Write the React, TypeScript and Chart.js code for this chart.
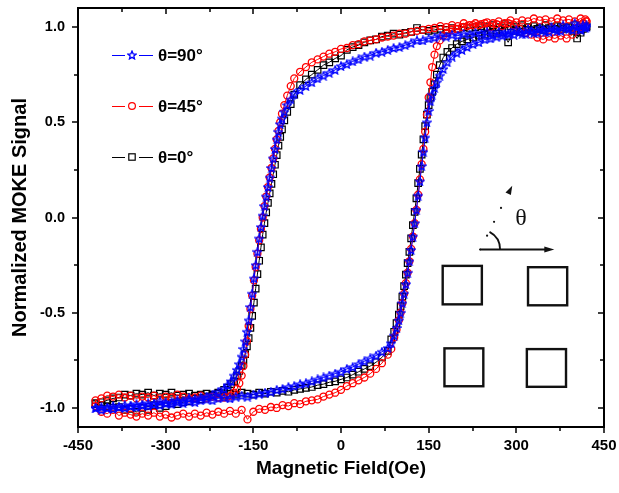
import React, { useEffect, useRef } from 'react';
import { Chart, registerables } from 'chart.js';

Chart.register(...registerables);

const FONT = "Arial, 'Liberation Sans', Helvetica, sans-serif";

// Field sweep grids (Oe)
const fieldDown = [
  420, 410, 400, 390, 380, 370, 360, 350, 340, 330, 320, 310, 300, 290, 280, 270, 260, 250, 240, 230,
  220, 210, 200, 190, 180, 170, 160, 150, 140, 130, 120, 110, 100, 90, 80, 70, 60, 50, 40, 30,
  20, 10, 0, -10, -20, -30, -40, -50, -60, -70, -80,
  -86, -92, -97, -101, -104, -107, -110, -113, -116, -119, -122, -125, -128, -131, -134, -137, -140,
  -143, -146, -149, -152, -155, -158, -161, -164, -167, -170, -174, -178, -183, -188, -194, -200,
  -210, -220, -230, -240, -250, -260, -270, -280, -290, -300, -310, -320, -330, -340, -350, -360,
  -370, -380, -390, -400, -410, -420,
];
const fieldUp = [
  -420, -410, -400, -390, -380, -370, -360, -350, -340, -330, -320, -310, -300, -290, -280, -270,
  -260, -250, -240, -230, -220, -210, -200, -190, -180, -170, -160, -150, -140, -130, -120, -110,
  -100, -90, -80, -70, -60, -50, -40, -30, -20, -10, 0, 10, 20, 30, 40, 50, 60, 70, 80,
  86, 91, 95, 99, 102, 105, 108, 111, 114, 117, 120, 123, 126, 129, 132, 135, 138, 141, 144, 147,
  150, 153, 156, 160, 164, 169, 175, 182, 190, 198, 207, 216, 226,
  236, 246, 256, 266, 276, 286, 296, 306, 316, 326, 336, 346, 356, 366, 376, 386, 396, 404, 410,
  414, 418, 420,
];

// θ = 90°
const blueDown = [
  1.01, 0.985, 1.02, 0.99, 1.01, 0.98, 1.0, 0.975, 0.995, 0.97, 0.99, 0.965, 0.985, 0.97, 0.965, 0.975,
  0.96, 0.975, 0.965, 0.97, 0.96, 0.965, 0.955, 0.96, 0.95, 0.955, 0.945, 0.94, 0.93, 0.93, 0.915,
  0.905, 0.895, 0.89, 0.88, 0.87, 0.865, 0.85, 0.845, 0.83, 0.82, 0.805, 0.795, 0.775, 0.76, 0.745,
  0.73, 0.71, 0.69, 0.67, 0.65,
  0.62, 0.59, 0.555, 0.52, 0.49, 0.45, 0.41, 0.36, 0.31, 0.26, 0.21, 0.16, 0.11, 0.06, 0.01, -0.05,
  -0.11, -0.18, -0.25, -0.32, -0.4, -0.47, -0.54, -0.6, -0.65, -0.69, -0.73, -0.77, -0.8, -0.83,
  -0.86, -0.88, -0.9,
  -0.915, -0.93, -0.94, -0.945, -0.955, -0.95, -0.965, -0.96, -0.97, -0.975, -0.965, -0.98, -0.975,
  -0.985, -0.98, -0.99, -0.985, -0.995, -0.99, -1.0, -0.995, -1.0,
];
const blueUp = [
  -1.0, -1.01, -1.0, -1.005, -0.995, -1.0, -0.99, -0.995, -0.985, -0.99, -0.98, -0.985, -0.975,
  -0.98, -0.97, -0.975, -0.965, -0.97, -0.96, -0.955, -0.96, -0.95, -0.945, -0.95, -0.94, -0.935,
  -0.94, -0.93, -0.925, -0.92, -0.915, -0.905, -0.9, -0.89, -0.885, -0.875, -0.87, -0.86, -0.85,
  -0.84, -0.83, -0.82, -0.81, -0.795, -0.785, -0.77, -0.755, -0.74, -0.725, -0.705, -0.685,
  -0.66, -0.62, -0.58, -0.54, -0.5, -0.45, -0.4, -0.35, -0.29, -0.23, -0.17, -0.1, -0.03, 0.04,
  0.115, 0.19, 0.27, 0.345, 0.42, 0.5, 0.56, 0.61, 0.645, 0.68, 0.71, 0.745, 0.78, 0.815, 0.845,
  0.865, 0.88, 0.895, 0.91,
  0.92, 0.935, 0.94, 0.95, 0.955, 0.965, 0.96, 0.975, 0.965, 0.98, 0.97, 0.985, 0.975, 0.99, 0.98,
  0.995, 0.985, 1.0, 0.99, 1.01, 0.995, 1.0,
];

// θ = 45°
const redDown = [
  1.03, 1.045, 1.03, 1.04, 1.035, 1.045, 1.03, 1.04, 1.035, 1.045, 1.03, 1.035, 1.025, 1.035, 1.02,
  1.03, 1.02, 1.025, 1.015, 1.02, 1.01, 1.02, 1.005, 1.01, 1.0, 1.005, 0.995, 0.99, 0.985, 0.98,
  0.975, 0.965, 0.965, 0.955, 0.95, 0.945, 0.935, 0.93, 0.925, 0.91, 0.905, 0.89, 0.885, 0.87,
  0.86, 0.845, 0.83, 0.815, 0.79, 0.765, 0.73,
  0.69, 0.64, 0.59, 0.545, 0.5, 0.455, 0.41, 0.36, 0.31, 0.26, 0.21, 0.16, 0.11, 0.06, 0.0, -0.06,
  -0.12, -0.19, -0.26, -0.33, -0.41, -0.48, -0.57, -0.65, -0.72, -0.78, -0.83, -0.87, -0.9, -0.92,
  -0.935, -0.94, -0.945,
  -0.945, -0.94, -0.95, -0.935, -0.945, -0.95, -0.94, -0.93, -0.945, -0.94, -0.95, -0.935, -0.945,
  -0.94, -0.95, -0.935, -0.945, -0.93, -0.94, -0.935, -0.95, -0.96,
];
const redUp = [
  -0.99, -1.02, -1.03, -1.01, -1.04, -1.025, -1.035, -1.045, -1.03, -1.04, -1.025, -1.045, -1.035,
  -1.05, -1.04, -1.03, -1.045, -1.03, -1.04, -1.025, -1.035, -1.02, -1.03, -1.015, -1.03, -1.01,
  -1.06, -1.02, -1.005, -1.01, -0.995, -1.0, -0.985, -0.99, -0.975, -0.98, -0.965, -0.96, -0.955,
  -0.94, -0.93, -0.92, -0.905, -0.885, -0.87, -0.855, -0.84, -0.82, -0.795, -0.765, -0.72,
  -0.69, -0.63, -0.59, -0.54, -0.5, -0.45, -0.4, -0.345, -0.29, -0.23, -0.165, -0.1, -0.03, 0.04,
  0.12, 0.2, 0.28, 0.36, 0.45, 0.54, 0.63, 0.71, 0.79, 0.855, 0.9, 0.93, 0.955, 0.97, 0.985, 0.99,
  1.0, 1.005, 1.01,
  1.01, 1.02, 1.0, 1.015, 1.005, 1.02, 1.01, 0.99, 0.97, 0.96, 0.945, 0.935, 0.95, 0.94, 0.955,
  0.94, 0.96, 0.98, 1.0, 1.02, 1.04, 1.03,
];

// θ = 0°
const blackDown = [
  1.0, 0.985, 1.01, 1.0, 0.99, 1.005, 1.0, 1.01, 0.995, 1.005, 1.0, 1.01, 1.0, 1.005, 1.015, 1.0,
  1.01, 1.0, 1.005, 1.0, 0.995, 1.0, 0.99, 0.995, 0.985, 0.99, 0.985, 0.98, 0.985, 0.995, 0.975,
  0.97, 0.96, 0.965, 0.955, 0.95, 0.935, 0.93, 0.92, 0.905, 0.895, 0.88, 0.85, 0.835, 0.815, 0.8,
  0.775, 0.75, 0.725, 0.695, 0.645,
  0.595, 0.555, 0.51, 0.463, 0.423, 0.377, 0.327, 0.277, 0.227, 0.177, 0.127, 0.077, 0.027, -0.03,
  -0.09, -0.157, -0.227, -0.297, -0.373, -0.447, -0.517, -0.58, -0.633, -0.677, -0.717, -0.75,
  -0.778, -0.806, -0.83, -0.86, -0.875, -0.893, -0.905,
  -0.92, -0.935, -0.94, -0.955, -0.95, -0.965, -0.97, -0.98, -0.975, -0.99, -1.0, -0.985, -1.01,
  -1.0, -1.02, -1.005, -1.01, -0.995, -1.0, -0.99, -0.985, -0.98,
];
const blackUp = [
  -0.975, -0.97, -0.96, -0.95, -0.945, -0.93, -0.935, -0.925, -0.93, -0.92, -0.935, -0.925, -0.93,
  -0.92, -0.935, -0.93, -0.925, -0.935, -0.93, -0.925, -0.93, -0.925, -0.935, -0.925, -0.93, -0.92,
  -0.925, -0.93, -0.92, -0.925, -0.915, -0.92, -0.91, -0.915, -0.905, -0.9, -0.895, -0.89, -0.88,
  -0.875, -0.865, -0.86, -0.85, -0.84, -0.825, -0.81, -0.795, -0.78, -0.76, -0.735, -0.7,
  -0.64, -0.6, -0.555, -0.51, -0.465, -0.415, -0.36, -0.3, -0.24, -0.18, -0.11, -0.04, 0.03, 0.1,
  0.18, 0.255, 0.33, 0.41, 0.48, 0.54, 0.59, 0.63, 0.66, 0.7, 0.75, 0.8, 0.84, 0.87, 0.89, 0.91,
  0.925, 0.935, 0.945,
  0.955, 0.96, 0.97, 0.965, 0.975, 0.92, 0.98, 0.975, 0.985, 0.98, 0.99, 0.985, 0.995, 0.99, 1.0,
  0.995, 0.98, 0.94, 0.97, 0.99, 1.0, 1.005,
];

const seriesLabels = ['\u03b8=90\u00b0', '\u03b8=45\u00b0', '\u03b8=0\u00b0'];

const xTickValues = [-450, -375, -300, -225, -150, -75, 0, 75, 150, 225, 300, 375, 450];
const xMajorTicks = [-450, -300, -150, 0, 150, 300, 450];
const yTickValues = [-1.0, -0.75, -0.5, -0.25, 0.0, 0.25, 0.5, 0.75, 1.0];
const yMajorTicks = [-1.0, -0.5, 0.0, 0.5, 1.0];

// inset sketch (in data units)
const insetSquares = [
  [174, 241, -0.254, -0.456],
  [320, 387, -0.261, -0.461],
  [177, 243.5, -0.687, -0.886],
  [318, 385, -0.691, -0.889],
];
const insetOrigin = [238, -0.168];
const insetArrowEnd = [365, -0.168];
const insetDiagTip = [293, 0.167];
const insetThetaPos = [308, -0.008];

function makeStar(color: string, size: number) {
  const c = document.createElement('canvas');
  c.width = size;
  c.height = size;
  const g = c.getContext('2d')!;
  g.strokeStyle = color;
  g.lineWidth = 1.3;
  const cx = size / 2, cy = size / 2 + 0.4;
  const R = size / 2 - 0.7, r = R * 0.45;
  g.beginPath();
  for (let k = 0; k < 10; k++) {
    const ang = -Math.PI / 2 + (k * Math.PI) / 5;
    const rad = k % 2 === 0 ? R : r;
    const px = cx + rad * Math.cos(ang);
    const py = cy + rad * Math.sin(ang);
    if (k === 0) g.moveTo(px, py);
    else g.lineTo(px, py);
  }
  g.closePath();
  g.stroke();
  return c;
}

function toPoints(down: number[], up: number[]) {
  return fieldDown
    .map((x, i) => ({ x, y: down[i] }))
    .concat(fieldUp.map((x, i) => ({ x, y: up[i] })));
}

export default function App() {
  const ref = useRef<HTMLCanvasElement>(null);

  useEffect(() => {
    const star = makeStar('#0000ff', 10);
    const colors = ['#0000ff', '#ff0000', '#000000'];
    const kinds = ['star', 'circle', 'rect'];

    const drawMarker = (ctx: CanvasRenderingContext2D, kind: string, x: number, y: number, color: string) => {
      ctx.save();
      ctx.strokeStyle = color;
      ctx.lineWidth = 1.2;
      if (kind === 'star') {
        ctx.drawImage(star, x - star.width / 2, y - star.height / 2);
      } else if (kind === 'circle') {
        ctx.beginPath();
        ctx.arc(x, y, 3.4, 0, Math.PI * 2);
        ctx.stroke();
      } else {
        ctx.strokeRect(x - 3.2, y - 3.2, 6.4, 6.4);
      }
      ctx.restore();
    };

    const arrowHead = (ctx: CanvasRenderingContext2D, tx: number, ty: number, ang: number, len: number, half: number) => {
      ctx.beginPath();
      ctx.moveTo(tx, ty);
      ctx.lineTo(tx - len * Math.cos(ang) - half * Math.sin(ang), ty - len * Math.sin(ang) + half * Math.cos(ang));
      ctx.lineTo(tx - len * Math.cos(ang) + half * Math.sin(ang), ty - len * Math.sin(ang) - half * Math.cos(ang));
      ctx.closePath();
      ctx.fill();
    };

    const decor = {
      id: 'decor',
      afterDraw(chart: any) {
        const { ctx, chartArea: a, scales } = chart;
        const xs = scales.x, ys = scales.y;
        const X = (v: number) => xs.getPixelForValue(v);
        const Y = (v: number) => ys.getPixelForValue(v);
        ctx.save();
        // frame
        ctx.strokeStyle = '#000';
        ctx.lineWidth = 2;
        ctx.strokeRect(a.left, a.top, a.right - a.left, a.bottom - a.top);
        // ticks
        ctx.lineWidth = 1.5;
        ctx.beginPath();
        xTickValues.forEach((v) => {
          const px = Math.round(X(v));
          const len = xMajorTicks.includes(v) ? 6 : 4;
          ctx.moveTo(px, a.bottom);
          ctx.lineTo(px, a.bottom + len);
          ctx.moveTo(px, a.top);
          ctx.lineTo(px, a.top + len);
        });
        yTickValues.forEach((v) => {
          const py = Math.round(Y(v));
          const len = yMajorTicks.includes(v) ? 6 : 4;
          ctx.moveTo(a.left - len, py);
          ctx.lineTo(a.left, py);
          ctx.moveTo(a.right - len, py);
          ctx.lineTo(a.right, py);
        });
        ctx.stroke();

        // legend
        seriesLabels.forEach((label, i) => {
          const y = a.top + 47 + i * 51;
          const x0 = a.left + 34;
          ctx.strokeStyle = colors[i];
          ctx.lineWidth = 1;
          ctx.beginPath();
          ctx.moveTo(x0, y + 0.5);
          ctx.lineTo(x0 + 13, y + 0.5);
          ctx.moveTo(x0 + 27, y + 0.5);
          ctx.lineTo(x0 + 41, y + 0.5);
          ctx.stroke();
          drawMarker(ctx, kinds[i], x0 + 20, y, colors[i]);
          ctx.fillStyle = '#000';
          ctx.font = `bold 17px ${FONT}`;
          ctx.textAlign = 'left';
          ctx.textBaseline = 'middle';
          ctx.fillText(label, x0 + 46, y + 1);
        });

        // inset sketch
        ctx.strokeStyle = '#111';
        ctx.fillStyle = '#111';
        ctx.lineWidth = 2.4;
        insetSquares.forEach(([x1, x2, y1, y2]) => {
          ctx.strokeRect(X(x1), Y(y1), X(x2) - X(x1), Y(y2) - Y(y1));
        });
        const ox = X(insetOrigin[0]), oy = Y(insetOrigin[1]);
        const ex = X(insetArrowEnd[0]), ey = Y(insetArrowEnd[1]);
        ctx.lineWidth = 2;
        ctx.beginPath();
        ctx.moveTo(ox, oy);
        ctx.lineTo(ex - 6, ey);
        ctx.stroke();
        arrowHead(ctx, ex, ey, 0, 10, 3);
        // dotted diagonal
        const tx = X(insetDiagTip[0]), ty = Y(insetDiagTip[1]);
        const ang = Math.atan2(ty - oy, tx - ox);
        const dist = Math.hypot(tx - ox, ty - oy);
        for (let d = 0; d < dist - 10; d += 15.5) {
          ctx.beginPath();
          ctx.arc(ox + d * Math.cos(ang), oy + d * Math.sin(ang), 1.1, 0, Math.PI * 2);
          ctx.fill();
        }
        arrowHead(ctx, tx, ty, ang, 9, 3);
        // angle arc
        ctx.lineWidth = 1.8;
        ctx.beginPath();
        ctx.arc(ox, oy, 20, -1.08, 0);
        ctx.stroke();
        // theta
        ctx.font = "24px 'Liberation Serif', 'DejaVu Serif', serif";
        ctx.textAlign = 'center';
        ctx.textBaseline = 'middle';
        ctx.fillText('\u03b8', X(insetThetaPos[0]), Y(insetThetaPos[1]));
        ctx.restore();
      },
    };

    const chart = new Chart(ref.current!, {
      type: 'scatter',
      data: {
        datasets: [
          {
            label: seriesLabels[0],
            data: toPoints(blueDown, blueUp),
            showLine: true,
            borderColor: '#0000ff',
            borderWidth: 1,
            pointStyle: star as any,
            pointRadius: 5,
            pointBorderColor: '#0000ff',
            pointBackgroundColor: 'rgba(0,0,0,0)',
          },
          {
            label: seriesLabels[1],
            data: toPoints(redDown, redUp),
            showLine: true,
            borderColor: '#ff0000',
            borderWidth: 1,
            pointStyle: 'circle',
            pointRadius: 3.5,
            pointBorderWidth: 1.3,
            pointBorderColor: '#ff0000',
            pointBackgroundColor: 'rgba(0,0,0,0)',
          },
          {
            label: seriesLabels[2],
            data: toPoints(blackDown, blackUp),
            showLine: true,
            borderColor: '#000000',
            borderWidth: 1,
            pointStyle: 'rect',
            pointRadius: 4.6,
            pointBorderWidth: 1.2,
            pointBorderColor: '#000000',
            pointBackgroundColor: 'rgba(0,0,0,0)',
          },
        ],
      },
      options: {
        responsive: false,
        animation: false,
        devicePixelRatio: 1,
        layout: { padding: { top: 8, right: 15, left: 0, bottom: 0 }, autoPadding: false },
        plugins: { legend: { display: false }, tooltip: { enabled: false } },
        scales: {
          x: {
            type: 'linear',
            min: -450,
            max: 450,
            grid: { display: false, drawTicks: false },
            border: { display: false },
            afterBuildTicks: (s: any) => {
              s.ticks = xTickValues.map((value) => ({ value }));
            },
            afterFit: (s: any) => {
              s.height = 66;
              s.paddingLeft = 0;
              s.paddingRight = 0;
              s.paddingTop = 0;
              s.paddingBottom = 0;
            },
            ticks: {
              autoSkip: false,
              maxRotation: 0,
              padding: 10,
              color: '#000',
              font: { family: FONT, size: 15, weight: 'bold' },
              callback: (v: any) => (xMajorTicks.includes(Number(v)) ? String(v) : ''),
            },
            title: {
              display: true,
              text: 'Magnetic Field(Oe)',
              color: '#000',
              font: { family: FONT, size: 19, weight: 'bold' },
              padding: { top: 0, bottom: 13 },
            },
          },
          y: {
            type: 'linear',
            min: -1.1,
            max: 1.1,
            grid: { display: false, drawTicks: false },
            border: { display: false },
            afterBuildTicks: (s: any) => {
              s.ticks = yTickValues.map((value) => ({ value }));
            },
            afterFit: (s: any) => {
              s.width = 78;
              s.paddingLeft = 0;
              s.paddingRight = 0;
              s.paddingTop = 0;
              s.paddingBottom = 0;
            },
            ticks: {
              autoSkip: false,
              padding: 13,
              color: '#000',
              font: { family: FONT, size: 14.5, weight: 'bold' },
              callback: (v: any) =>
                yMajorTicks.some((m) => Math.abs(m - Number(v)) < 1e-9) ? Number(v).toFixed(1) : '',
            },
            title: {
              display: true,
              text: 'Normalized MOKE Signal',
              color: '#000',
              font: { family: FONT, size: 20, weight: 'bold' },
              padding: { top: 8, bottom: 0 },
            },
          },
        },
      },
      plugins: [decor],
    } as any);

    return () => chart.destroy();
  }, []);

  return (
    <div style={{ position: 'fixed', left: 0, top: 0, width: 619, height: 493, background: '#fff' }}>
      <canvas ref={ref} width={619} height={493} style={{ display: 'block', width: 619, height: 493 }} />
    </div>
  );
}
